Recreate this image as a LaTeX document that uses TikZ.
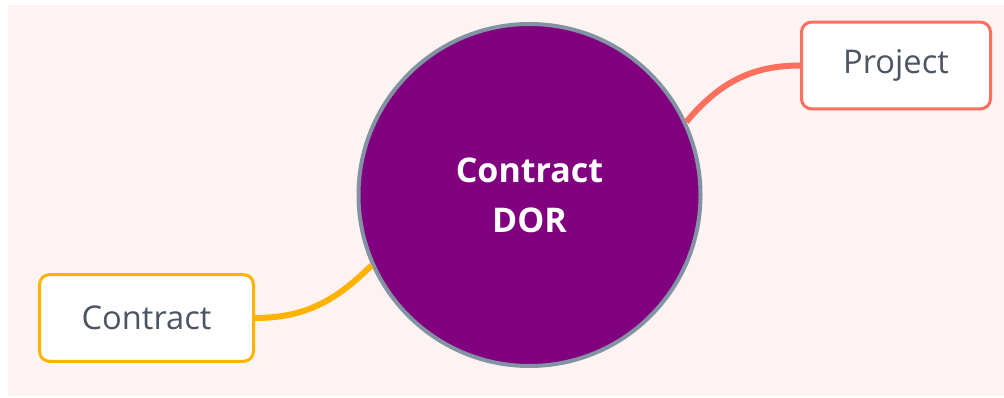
\documentclass[tikz,border=0pt]{standalone}
\usepackage{fontspec}
\setmainfont{Open Sans}
\usetikzlibrary{arrows}
\definecolor{bgpink}{HTML}{FDF3F2}
\definecolor{dorpurple}{HTML}{800080}
\definecolor{rimgray}{HTML}{8493A3}
\definecolor{txtgray}{HTML}{4B5563}
\definecolor{projred}{HTML}{FF6F5E}
\definecolor{controrange}{HTML}{FFB300}

\begin{document}
\begin{tikzpicture}[x=0.75pt,y=0.75pt,auto,
                main node/.style={circle,draw=rimgray,line width=3pt,fill=dorpurple,text=white,
                        minimum size=256.5pt,align=center,font=\fontsize{25.5}{37.5}\selectfont\bfseries},
                leaf node/.style={rectangle,rounded corners=7.5pt,line width=2.25pt,fill=white,
                        text=txtgray,minimum height=65pt,font=\fontsize{24.5}{30}\selectfont}]
                \useasboundingbox (0,0) rectangle (1004,398);
                \fill[bgpink] (8,2) rectangle (1004,393);
                \node[main node] (0) at (529.5,203) {Contract\\DOR};
                \node[leaf node,draw=projred,minimum width=141.75pt] (1) at (896,332.5) {Project};
                \node[leaf node,draw=controrange,minimum width=160.5pt] (2) at (146.5,80) {Contract};
                
                \path[line width=4.5pt]
                (1) edge[draw=projred,out=180,in=50] (0.25)
                (2) edge[draw=controrange,out=0,in=225] (0.204)
                ;
                \end{tikzpicture}
\end{document}
